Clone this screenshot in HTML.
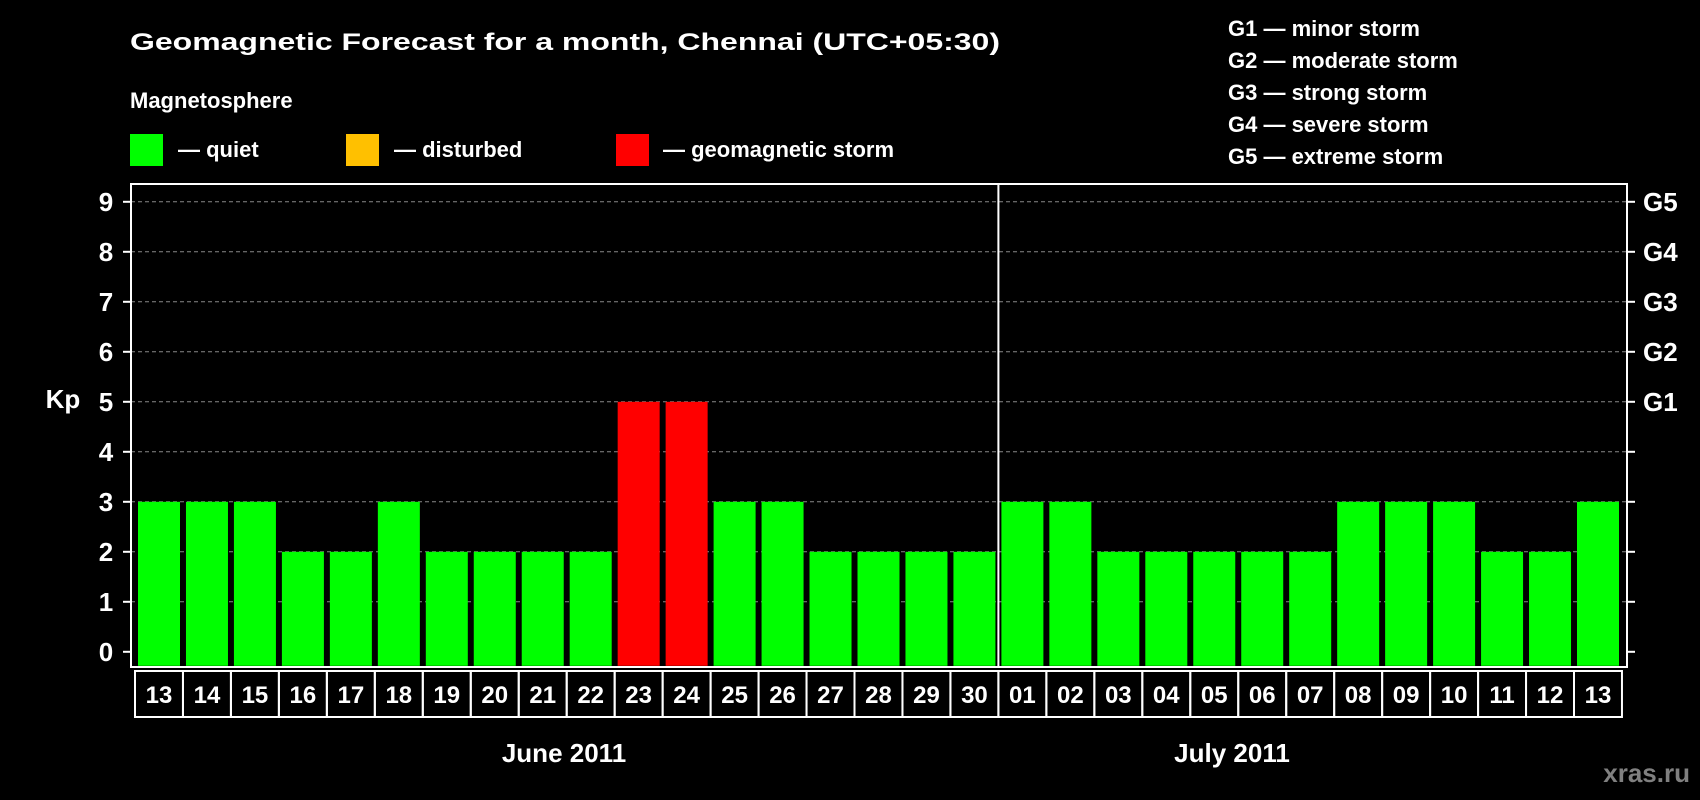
<!DOCTYPE html>
<html><head><meta charset="utf-8"><style>
html,body{margin:0;padding:0;background:#000;width:1700px;height:800px;overflow:hidden}
svg{display:block;font-family:"Liberation Sans",Arial,sans-serif;font-weight:bold}
</style></head><body>
<svg id="chart" width="1700" height="800" viewBox="0 0 1700 800">
<rect x="0" y="0" width="1700" height="800" fill="#000"/>
<text x="130" y="50" fill="#fff" font-size="24" textLength="870" lengthAdjust="spacingAndGlyphs">Geomagnetic Forecast for a month, Chennai (UTC+05:30)</text>
<text x="130" y="108" fill="#fff" font-size="22">Magnetosphere</text>
<g><rect x="130" y="134" width="33" height="32" fill="#00ff00"/><text x="178" y="157" fill="#fff" font-size="22">— quiet</text></g>
<g><rect x="346" y="134" width="33" height="32" fill="#ffc000"/><text x="394" y="157" fill="#fff" font-size="22">— disturbed</text></g>
<g><rect x="616" y="134" width="33" height="32" fill="#ff0000"/><text x="663" y="157" fill="#fff" font-size="22">— geomagnetic storm</text></g>
<g fill="#fff" font-size="22">
<text x="1228" y="36">G1 — minor storm</text>
<text x="1228" y="68">G2 — moderate storm</text>
<text x="1228" y="100">G3 — strong storm</text>
<text x="1228" y="132">G4 — severe storm</text>
<text x="1228" y="164">G5 — extreme storm</text>
</g>
<text x="63" y="408" fill="#fff" font-size="26" text-anchor="middle">Kp</text>
<text x="1232" y="762" fill="#fff" font-size="26" text-anchor="middle">July 2011</text>
<text x="564" y="762" fill="#fff" font-size="26" text-anchor="middle">June 2011</text>
<text x="1690" y="782" fill="#808080" font-size="26" text-anchor="end">xras.ru</text>
<g id="plot"></g>
</svg>
<script>
const days = ["13","14","15","16","17","18","19","20","21","22","23","24","25","26","27","28","29","30","01","02","03","04","05","06","07","08","09","10","11","12","13"];
const kpValues = [3,3,3,2,2,3,2,2,2,2,5,5,3,3,2,2,2,2,3,3,2,2,2,2,2,3,3,3,2,2,3];
const yTicks = [0,1,2,3,4,5,6,7,8,9];
const gLabels = ["G1","G2","G3","G4","G5"];
const gLevels = [5,6,7,8,9];

const NS="http://www.w3.org/2000/svg";
const plot=document.getElementById('plot');
const L=131,R=1627,T=184,B=667;
const y=v=>651.8-v*50;
const x0=138,step=(1577-138)/30,bw=42;
const xb=i=>x0+i*step;
function mk(tag,attrs,parent){const e=document.createElementNS(NS,tag);for(const k in attrs)e.setAttribute(k,attrs[k]);(parent||plot).appendChild(e);return e;}
function color(v){return v>=5?"#ff0000":(v>=4?"#ffc000":"#00ff00");}

yTicks.forEach(v=>{
  if(v>0){const g=mk('line',{x1:L,x2:R,y1:y(v),y2:y(v),stroke:'#888','stroke-dasharray':'4,3','stroke-width':1});
  
  }
  const t=mk('line',{x1:L-8,x2:L,y1:y(v),y2:y(v),stroke:'#fff','stroke-width':2});
  
  
  const t2=mk('line',{x1:R,x2:R+8,y1:y(v),y2:y(v),stroke:'#fff','stroke-width':2});
  
  
  const lb=mk('text',{x:106,y:y(v)+9,fill:'#fff','font-size':26,'text-anchor':'middle'});
  lb.textContent=v;
  
  
});
gLabels.forEach((g,i)=>{
  const lb=mk('text',{x:1643,y:y(gLevels[i])+9,fill:'#fff','font-size':26});
  lb.textContent=g;
  
  
});
kpValues.forEach((v,i)=>{
  const b=mk('rect',{x:xb(i),y:y(v),width:bw,height:y(0)-y(v)+14,fill:color(v)});
  
  
});
const fr=mk('rect',{x:L,y:T,width:R-L,height:B-T,fill:'none',stroke:'#fff','stroke-width':2});


const dv=mk('line',{x1:xb(18)-3,x2:xb(18)-3,y1:T,y2:B,stroke:'#fff','stroke-width':2});


days.forEach((d,i)=>{
  const cx=xb(i)-3;
  const c=mk('rect',{x:cx,y:671,width:step,height:46,fill:'none',stroke:'#fff','stroke-width':2});
  
  
  const t=mk('text',{x:cx+step/2,y:703,fill:'#fff','font-size':24,'text-anchor':'middle'});
  t.textContent=d;
  
  
});
</script>
</body></html>
